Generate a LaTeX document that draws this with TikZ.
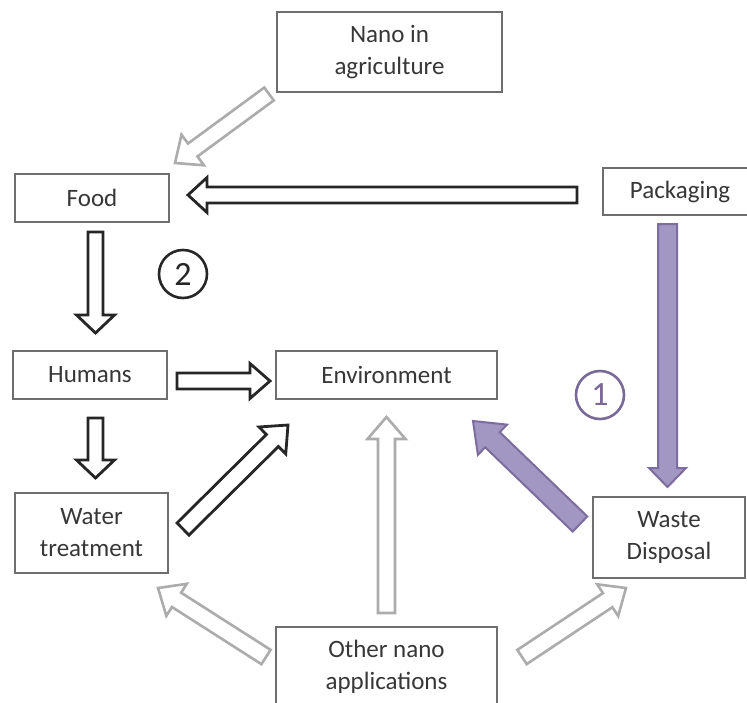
\documentclass[tikz,border=0pt]{standalone}
\usepackage{fontspec}
\setmainfont{Carlito}
\usetikzlibrary{calc}
\definecolor{boxline}{RGB}{110,110,110}
\definecolor{txt}{RGB}{55,55,55}
\definecolor{lgray}{RGB}{172,172,172}
\definecolor{pfill}{RGB}{162,150,194}
\definecolor{pline}{RGB}{125,108,158}
\definecolor{cpurple}{RGB}{120,105,150}
\newcommand\blockarr[6]{%
 \path ($(#3)!#6!(#2)$) coordinate (hb);
 \draw[#1] ($(#2)!#4!90:(#3)$) -- ($(hb)!#4!-90:(#2)$) -- ($(hb)!#5!-90:(#2)$) -- (#3) -- ($(hb)!#5!90:(#2)$) -- ($(hb)!#4!90:(#2)$) -- ($(#2)!#4!-90:(#3)$) -- cycle;}
\begin{document}
\begin{tikzpicture}[x=1pt,y=-1pt,
  box/.style={draw=boxline,line width=1.8pt,fill=white,text=txt,inner sep=0pt,align=center,
    font=\fontsize{25}{32}\selectfont},
  blk/.style={draw=black!85,line width=2.8pt,fill=white,line join=miter},
  gry/.style={draw=lgray,line width=2.6pt,fill=white,line join=miter},
  pur/.style={draw=pline,line width=2pt,fill=pfill,line join=miter},
  num/.style={circle,line width=2.6pt,minimum size=48pt,inner sep=0pt,font=\fontsize{34}{34}\selectfont}]
\useasboundingbox (0,0) rectangle (747,702);
\fill[white] (0,0) rectangle (747,702);
% nodes
\node[box,minimum width=225pt,minimum height=80pt] (nano) at (389.5,52) {Nano in\\agriculture};
\node[box,minimum width=154pt,minimum height=48pt] (food) at (92,198) {Food};
\node[box,minimum width=154pt,minimum height=47pt] (pack) at (680,191.5) {Packaging};
\node[box,minimum width=154pt,minimum height=48pt] (hum) at (90,375) {Humans};
\node[box,minimum width=221pt,minimum height=48pt] (env) at (386.5,375) {Environment};
\node[box,minimum width=153pt,minimum height=80pt] (water) at (91.5,533) {Water\\treatment};
\node[box,minimum width=152pt,minimum height=81pt] (waste) at (669,537.5) {Waste\\Disposal};
\node[box,minimum width=221pt,minimum height=80pt] (other) at (386.5,667) {Other nano\\applications};
\node[num,draw=black!85,text=black!85] (c2) at (183,274) {2};
\node[num,draw=cpurple,text=cpurple] (c1) at (600,395) {1};
% arrow end points
\coordinate (pf1) at (577,195); \coordinate (pf2) at (188,195);
\coordinate (fh1) at (95.5,232); \coordinate (fh2) at (95.5,333);
\coordinate (he1) at (177,381); \coordinate (he2) at (270,381);
\coordinate (hw1) at (95.5,418); \coordinate (hw2) at (95.5,478);
\coordinate (we1) at (183,529); \coordinate (we2) at (288,425);
\coordinate (pw1) at (667.5,224); \coordinate (pw2) at (667.5,487);
\coordinate (wse1) at (580,524); \coordinate (wse2) at (473,421);
\coordinate (nf1) at (269,94); \coordinate (nf2) at (175,163);
\coordinate (oe1) at (386.5,613); \coordinate (oe2) at (386.5,417);
\coordinate (ow1) at (266,657); \coordinate (ow2) at (158,588);
\coordinate (ows1) at (522,657); \coordinate (ows2) at (626,588);
% black arrows
\blockarr{blk}{pf1}{pf2}{8pt}{17.5pt}{19pt}
\blockarr{blk}{fh1}{fh2}{7.5pt}{19pt}{18pt}
\blockarr{blk}{he1}{he2}{8pt}{17.5pt}{20pt}
\blockarr{blk}{hw1}{hw2}{7.5pt}{19pt}{18pt}
\blockarr{blk}{we1}{we2}{8.5pt}{19pt}{22pt}
% purple arrows
\blockarr{pur}{pw1}{pw2}{9.5pt}{18.5pt}{19pt}
\blockarr{pur}{wse1}{wse2}{10.5pt}{21pt}{27pt}
% gray arrows
\blockarr{gry}{nf1}{nf2}{8pt}{19pt}{22pt}
\blockarr{gry}{oe1}{oe2}{8.5pt}{19pt}{22pt}
\blockarr{gry}{ow1}{ow2}{8.5pt}{19pt}{22pt}
\blockarr{gry}{ows1}{ows2}{8.5pt}{19pt}{22pt}
\end{tikzpicture}
\end{document}
